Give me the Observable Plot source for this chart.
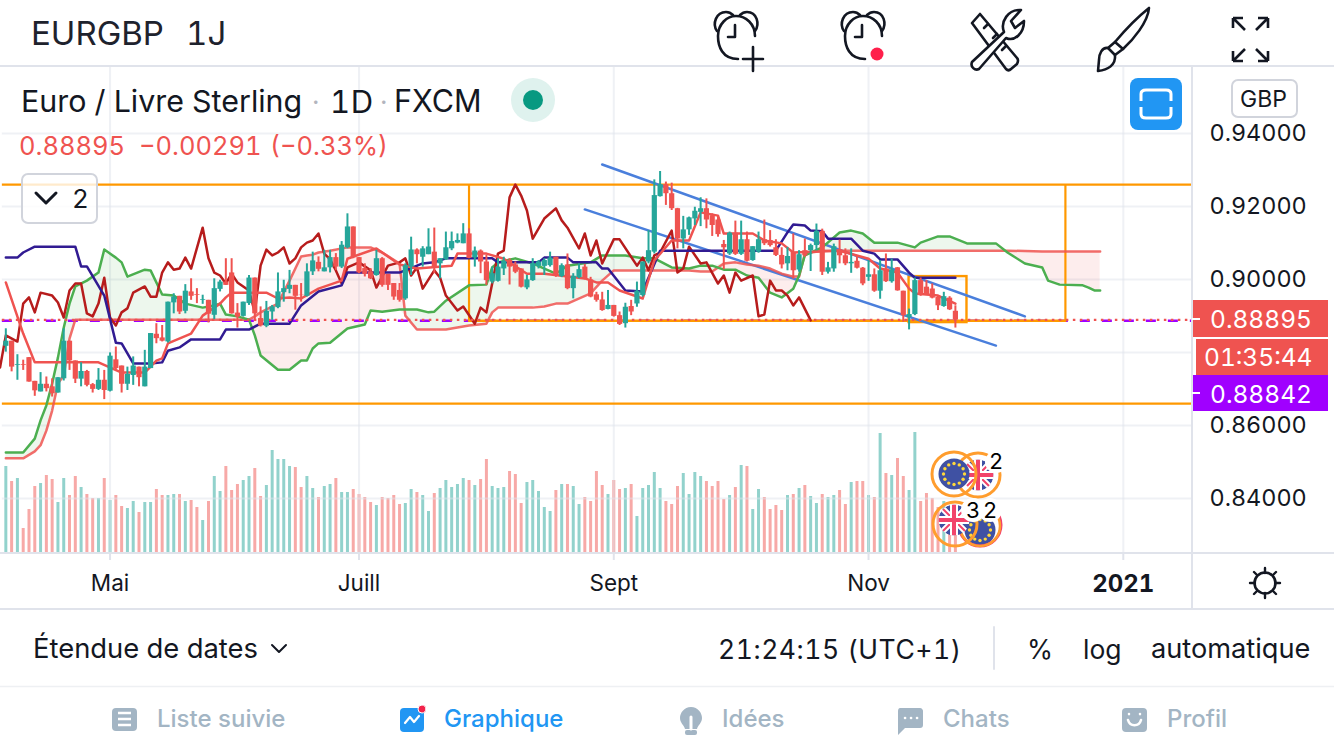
<!DOCTYPE html>
<html><head><meta charset="utf-8">
<script src="https://cdn.jsdelivr.net/npm/d3@7"></script>
<script src="https://cdn.jsdelivr.net/npm/@observablehq/plot@0.6"></script>
<style>
html,body{margin:0;padding:0;background:#fff;overflow:hidden}
#page{position:relative;width:1334px;height:750px;font-family:Inter,sans-serif;color:#131722;overflow:hidden}
.s{position:absolute;left:0;top:66px}
.t{position:absolute;white-space:nowrap;line-height:1;transform:translateY(-50%);z-index:6;font-variant-numeric:tabular-nums}
#ov{position:absolute;left:0;top:0;pointer-events:none;z-index:5}
.box{position:absolute;box-sizing:border-box}
</style></head><body><div id="page">
<div class="s" id="vol"></div>
<div class="s" id="main"></div>
<svg id="ov" width="1334" height="750" fill="none" stroke="#131722" stroke-width="2.6" stroke-linecap="round" stroke-linejoin="round"></svg>
</div>
<script>
// ---------- data ----------
const open=[.8817,.8831,.8765,.8767,.8786,.8721,.8692,.8713,.8706,.8689,
.8728,.8831,.8777,.8727,.8748,.8712,.8699,.8724,.8694,.8780,
.8763,.8713,.8737,.8760,.8706,.8756,.8850,.8840,.8829,.8936,
.8954,.8913,.8966,.8959,.8943,.8943,.8902,.8973,.8993,.9018,
.8908,.8899,.8934,.9004,.8893,.8872,.8911,.8923,.8964,.8973,
.8984,.8957,.8954,.9021,.9047,.9021,.9032,.9060,.9034,.9087,
.9144,.9060,.9030,.9021,.9011,.9057,.9014,.8989,.8970,.8947,
.9034,.9081,.9061,.9068,.9075,.9043,.9054,.9084,.9100,.9098,
.9125,.9059,.9078,.9048,.8993,.8995,.9029,.9052,.9040,.9029,
.8977,.8997,.9036,.9036,.9038,.9061,.9008,.9040,.8975,.9005,
.9034,.8999,.8958,.8944,.8918,.8929,.8901,.8879,.8926,.8933,
.8956,.9048,.9075,.9227,.9260,.9235,.9194,.9111,.9136,.9166,
.9184,.9194,.9175,.9163,.9096,.9070,.9127,.9069,.9109,.9052,
.9075,.9109,.9107,.9087,.9066,.9043,.9074,.9026,.9079,.9079,
.9093,.9132,.9020,.9029,.9081,.9065,.9043,.9050,.9031,.9006,
.9013,.8968,.9029,.8994,.9032,.8968,.8896,.8904,.8997,.8979,
.8974,.8951,.8926,.8949,.8913];
const close=[.8831,.8760,.8767,.8765,.8719,.8695,.8713,.8701,.8687,.8731,
.8831,.8777,.8727,.8748,.8710,.8699,.8724,.8696,.8790,.8756,
.8713,.8740,.8763,.8731,.8760,.8852,.8838,.8831,.8938,.8952,
.8911,.8968,.8954,.8957,.8945,.8905,.8975,.8993,.8984,.8906,
.8897,.8938,.9004,.8906,.8873,.8913,.8925,.8966,.8975,.8984,
.8954,.8956,.9021,.9051,.9028,.9032,.9060,.9034,.9094,.9144,
.9060,.9018,.9014,.9002,.9057,.8984,.8984,.8952,.8943,.9038,
.9081,.9068,.9084,.9089,.9034,.9057,.9087,.9104,.9107,.9125,
.9058,.9078,.9048,.8997,.9016,.9034,.9050,.9034,.9020,.8979,
.8999,.9043,.9048,.9052,.9059,.9011,.9038,.8975,.9009,.9027,
.9002,.8952,.8943,.8915,.8929,.8899,.8877,.8924,.8911,.8968,
.9048,.9079,.9230,.9260,.9235,.9194,.9111,.9136,.9169,.9187,
.9194,.9163,.9148,.9123,.9087,.9127,.9069,.9109,.9050,.9090,
.9109,.9098,.9093,.9066,.9040,.9063,.9024,.9068,.9065,.9093,
.9132,.9020,.9032,.9090,.9065,.9043,.9047,.9031,.8988,.9013,
.8968,.9024,.8994,.9026,.8969,.8901,.8904,.8997,.8956,.8958,
.8949,.8928,.8953,.8917,.88895];
const high=[.8865,.8831,.8794,.8779,.8786,.8721,.8745,.8733,.8728,.8731,
.8865,.8831,.8777,.8772,.8751,.8715,.8756,.8751,.8799,.8815,
.8763,.8760,.8788,.8760,.8806,.8852,.8879,.8874,.8938,.8961,
.8954,.8986,.9002,.8975,.8957,.8943,.9002,.8998,.9057,.9057,
.8934,.8938,.9011,.9004,.8925,.8940,.8929,.9018,.8998,.9025,
.8984,.8989,.9043,.9075,.9062,.9080,.9080,.9071,.9104,.9180,
.9144,.9060,.9043,.9030,.9080,.9060,.9014,.8989,.8989,.9043,
.9116,.9084,.9090,.9139,.9141,.9057,.9130,.9130,.9125,.9153,
.9139,.9089,.9081,.9066,.9034,.9057,.9061,.9057,.9048,.9029,
.9011,.9057,.9052,.9057,.9075,.9061,.9043,.9070,.9016,.9043,
.9041,.9006,.8965,.8965,.8970,.8929,.8911,.8935,.8943,.8993,
.9048,.9134,.9273,.9296,.9267,.9264,.9195,.9173,.9171,.9198,
.9224,.9221,.9180,.9175,.9107,.9130,.9160,.9160,.9130,.9090,
.9130,.9163,.9134,.9109,.9087,.9088,.9125,.9079,.9111,.9097,
.9152,.9138,.9047,.9097,.9108,.9084,.9084,.9063,.9033,.9052,
.9029,.9052,.9070,.9056,.9033,.8968,.8919,.9004,.9004,.8997,
.8988,.8956,.8965,.8953,.8928];
const low=[.8801,.8747,.8724,.8751,.8719,.8680,.8692,.8692,.8678,.8689,
.8722,.8751,.8715,.8706,.8706,.8689,.8696,.8671,.8692,.8751,
.8689,.8696,.8710,.8706,.8706,.8756,.8824,.8829,.8826,.8906,
.8904,.8906,.8943,.8934,.8932,.8881,.8890,.8966,.8984,.8905,
.8867,.8897,.8929,.8888,.8870,.8868,.8888,.8920,.8938,.8961,
.8916,.8938,.8952,.9011,.9021,.9021,.9018,.9025,.9030,.9084,
.9057,.9016,.9007,.9000,.9009,.8979,.8970,.8943,.8938,.8943,
.9011,.9043,.9034,.9068,.9016,.9002,.9052,.9079,.9098,.9098,
.9057,.9034,.9016,.8984,.8988,.8993,.9011,.8985,.9016,.8977,
.8972,.8995,.9029,.9011,.9034,.9006,.9005,.8972,.8947,.9002,
.8999,.8950,.8938,.8913,.8917,.8897,.8874,.8867,.8901,.8924,
.8952,.9043,.9070,.9226,.9203,.9189,.9084,.9084,.9121,.9148,
.9145,.9139,.9118,.9116,.9027,.9066,.9066,.9066,.9048,.9050,
.9072,.9093,.9089,.9063,.9029,.9024,.9001,.9020,.9061,.9022,
.9079,.9011,.9015,.9020,.9043,.9038,.9017,.9029,.8983,.8995,
.8965,.8946,.8992,.8990,.8968,.8883,.8862,.8901,.8954,.8956,
.8947,.8915,.8924,.8915,.8867];
const volume=[258,213,222,72,129,198,207,231,219,150,
222,171,228,195,174,162,162,222,156,171,
138,132,153,120,150,150,189,171,171,174,
174,153,156,135,96,153,228,183,258,186,
204,216,228,252,168,201,306,279,279,258,
255,195,228,192,165,198,204,222,180,180,
189,174,165,150,141,165,162,171,144,147,
189,180,171,123,177,192,216,195,204,222,
216,201,219,279,198,192,
195,243,234,147,210,216,183,135,123,186,
204,204,198,144,165,153,243,201,174,216,
189,192,204,108,192,201,240,192,153,144,
198,237,174,240,228,213,198,213,159,171,
195,261,258,129,189,165,129,141,126,171,
174,192,201,168,147,174,165,171,186,144,
210,213,213,171,165,357,237,231,282,228,
186,360,153,177,162,135,153,138,113];

const kijunDay=[0,2,3,5,12,13,14,17,19,20,22,25,27,28,30,32,37,38,42,44,49,51,54,58,59,68,72,74,76,84,85,92,93,97,98,102,103,104,107,110,111,113,133,135,136,138,139,141,142,146,148,150,151,154,156,157,164];
const kijun=[.9060,.9060,.9074,.9090,.9090,.9036,.9036,.8956,.8827,.8825,.8770,.8770,.8773,.8805,.8814,.8836,.8836,.8863,.8863,.8879,.8879,.8929,.8967,.8984,.9019,.9019,.9044,.9047,.9058,.9058,.9047,.9047,.9060,.9060,.9047,.9047,.9030,.9030,.8970,.8967,.9005,.9079,.9079,.9129,.9151,.9148,.9134,.9132,.9112,.9112,.9079,.9071,.9055,.9055,.9019,.9005,.9005];

const tenkanDay=[0,3,5,16,20,24,26,27,28,32,34,37,38,39,45,47,49,51,54,58,59,64,68,71,77,78,83,86,90,93,100,102,104,106,110,112,115,118,120,123,124,129,131,134,136,144,149,151,154,156,157,161,164];
const tenkan=[.8992,.8852,.8773,.8773,.8745,.8745,.8778,.8784,.8825,.8852,.8901,.8934,.8951,.8964,.8964,.8948,.8951,.8948,.8975,.8997,.9057,.9085,.9041,.9030,.9038,.9071,.9071,.9057,.9016,.9016,.9003,.8992,.8992,.8970,.8948,.9052,.9107,.9107,.9184,.9175,.9126,.9126,.9107,.9099,.9074,.9079,.9057,.9030,.9019,.8975,.8962,.8956,.8934];

const chikouDay=[-1,0,2,3,4,5,6,8,9,10,11,12,13,14,15,16,17,18,19,20,21,22,24,25,26,27,28,29,30,31,32,34,35,36,37,38,39,40,42,43,44,45,46,47,48,49,50,51,52,53,54,55,56,57,58,59,61,63,64,66,68,69,70,71,72,74,75,76,78,79,81,82,83,84,85,86,87,88,89,90,91,93,95,96,97,99,100,101,102,103,105,106,109,110,111,112,113,115,116,117,118,120,121,123,124,125,126,127,129,130,131,132,133,134,135,136,137,139];
const chikou=[.8759,.8847,.8830,.8934,.8951,.8910,.8964,.8956,.8937,.8896,.8970,.8989,.8989,.8907,.8899,.8934,.9005,.8896,.8874,.8910,.8921,.8964,.8981,.8953,.8953,.9019,.9047,.9027,.9030,.9060,.9030,.9142,.9058,.9019,.9011,.8989,.9016,.8992,.8970,.8910,.9038,.9082,.9066,.9074,.9088,.9044,.9058,.9088,.9101,.9107,.9126,.9071,.9055,.9025,.8989,.9033,.9047,.9025,.8978,.9038,.9047,.9058,.9011,.9033,.8975,.9025,.9005,.8956,.8915,.8926,.8879,.8923,.8910,.8989,.9071,.9079,.9225,.9260,.9230,.9189,.9112,.9167,.9195,.9162,.9142,.9085,.9126,.9066,.9107,.9044,.9110,.9110,.9038,.9060,.9025,.9066,.9074,.9134,.9019,.9030,.9090,.9044,.9047,.8989,.9011,.8964,.9019,.8997,.9011,.8899,.8904,.8997,.8970,.8970,.8956,.8929,.8951,.8888];

const cloudDay=[0,3,5,6,7,8,9,10,11,12,14,16,17,19,20,21,24,25,27,29,31,34,36,37,38,40,42,43,44,47,49,51,52,53,54,56,59,62,63,65,68,69,71,73,74,76,80,83,84,85,88,91,93,95,97,101,103,105,107,110,112,115,118,120,122,124,126,128,130,132,134,136,137,138,141,144,146,148,150,154,157,158,161,163,166,171,173,176,179,180,182,186,187,188,189];
const spanA=[.8526,.8526,.8564,.8614,.8655,.8715,.8786,.8868,.8934,.8981,.8997,.9019,.9082,.9060,.9047,.9008,.9027,.9025,.8959,.8956,.8934,.8923,.8929,.8934,.8904,.8899,.8890,.8847,.8792,.8753,.8753,.8778,.8778,.8811,.8825,.8827,.8866,.8877,.8915,.8912,.8918,.8918,.8918,.8910,.8912,.8942,.8984,.8986,.9033,.9047,.9058,.9044,.9030,.9016,.9038,.9047,.9066,.9066,.9066,.9058,.9058,.9033,.9030,.9038,.9038,.9027,.9027,.9011,.9005,.8964,.8951,.8975,.9011,.9066,.9088,.9129,.9134,.9126,.9101,.9101,.9088,.9101,.9118,.9118,.9099,.9099,.9074,.9044,.9033,.8997,.8986,.8984,.8978,.8970,.8970];
const spanB=[.8510,.8510,.8529,.8546,.8586,.8641,.8715,.8737,.8838,.8890,.8890,.8890,.8890,.8890,.8890,.8890,.8890,.8890,.8890,.8890,.8890,.8890,.8890,.8890,.8890,.8890,.8890,.8899,.8910,.8934,.8997,.9063,.9066,.9068,.9074,.9079,.9088,.9088,.9088,.9074,.9044,.8901,.8863,.8863,.8863,.8863,.8874,.8879,.8910,.8923,.8923,.8923,.8926,.8934,.8934,.8962,.8997,.9025,.9025,.9025,.9025,.9025,.9025,.9022,.9022,.9044,.9047,.9041,.9038,.9030,.9016,.9008,.9008,.9071,.9079,.9079,.9079,.9079,.9079,.9079,.9079,.9079,.9079,.9079,.9079,.9079,.9079,.9078,.9077,.9077,.9077,.9077,.9077,.9077,.9077];

const trendDay=[[103,176],[100,171]];
const trendPrice=[[.9315,.8899],[.9192,.8819]];
const levelTop=.9260, levelMid=.8887, levelLow=.8660;
const rangeDays=[80,183];
const boxDays=[156,166], boxPrices=[.9008,.8882];
const lastPrice=.88895, otherPrice=.8887;
const priceTicks=[.94,.92,.90,.86,.84];
const priceGrid=[.94,.92,.90,.88,.86,.84];
const monthDays=[18,61,105,149], monthLabels=["Mai","Juill","Sept","Nov"];
const yearDay=[193], yearLabel=["2021"];
const viewDays=[-0.6,204.95];

// ---------- shared frame ----------
const TEAL="#26a69a",RED="#ef5350",GREEN="#4caf50",NAVY="#311b92",DARKRED="#b71c1c",ORANGE="#ff9800",BLUE="#4a7fdc",PURPLE="#a000ff";
const rows=open.map((o,i)=>({i,o,c:close[i],h:high[i],l:low[i],v:volume[i]}));
const up=rows.filter(d=>d.c>=d.o), down=rows.filter(d=>d.c<d.o);
const pts=(xs,ys)=>xs.map((x,k)=>({x,y:ys[k]}));
const frame={width:1334,height:542,marginLeft:0,marginRight:142,marginTop:0,marginBottom:56,
  x:{type:"linear",domain:[-0.92,204.95],axis:null},
  style:{background:"transparent",fontFamily:"Inter,sans-serif",color:"#131722"}};

// volume pane, below the price pane
document.getElementById("vol").append(Plot.plot({...frame,
  y:{domain:[0,1458],axis:null},
  marks:[
    Plot.ruleX(up,{x:"i",y1:0,y2:"v",stroke:"#92d2cc",strokeWidth:3}),
    Plot.ruleX(down,{x:"i",y1:0,y2:"v",stroke:"#f7a9a7",strokeWidth:3})
  ]}));

const cloud=cloudDay.map((i,k)=>({i,a:spanA[k],b:spanB[k]}));
const candle=(data,color)=>[
  Plot.ruleX(data,{x:"i",y1:"l",y2:"h",stroke:color,strokeWidth:2}),
  Plot.ruleX(data,{x:"i",y1:d=>Math.min(d.o,d.c),y2:d=>Math.max(d.o,d.c),stroke:color,strokeWidth:5.2})
];
const LW=2.5;
document.getElementById("main").append(Plot.plot({...frame,
  y:{domain:[.82521,.95836],axis:null},
  marks:[
    Plot.ruleY(priceGrid,{x1:viewDays[0],x2:viewDays[1],stroke:"#e0e3eb",strokeOpacity:.5,strokeWidth:2}),
    Plot.gridX([...monthDays,...yearDay],{stroke:"#e0e3eb",strokeOpacity:.5,strokeWidth:2}),
    Plot.axisY(priceTicks,{anchor:"right",tickSize:0,tickPadding:17,fontSize:23.4,dy:.4,tickFormat:d=>d.toFixed(5),label:null,fill:"#131722"}),
    Plot.axisX(monthDays,{anchor:"bottom",tickSize:8,tickPadding:15,fontSize:22.5,stroke:"#e0e3eb",strokeWidth:2,tickFormat:d=>monthLabels[monthDays.indexOf(d)],label:null,fill:"#131722"}),
    Plot.axisX(yearDay,{anchor:"bottom",tickSize:8,tickPadding:14,fontSize:24,fontWeight:700,stroke:"#e0e3eb",strokeWidth:2,tickFormat:d=>yearLabel[0],label:null,fill:"#131722"}),
    // cloud
    Plot.areaY(cloud,{x:"i",y1:"b",y2:d=>Math.max(d.a,d.b),fill:GREEN,fillOpacity:.1}),
    Plot.areaY(cloud,{x:"i",y1:"b",y2:d=>Math.min(d.a,d.b),fill:RED,fillOpacity:.1}),
    // last-price lines
    Plot.ruleY([otherPrice],{x1:viewDays[0],x2:viewDays[1],stroke:PURPLE,strokeWidth:2.4,strokeDasharray:"10,12"}),
    // drawings
    Plot.ruleY([levelTop,levelLow],{x1:viewDays[0],x2:viewDays[1],stroke:ORANGE,strokeWidth:2.4}),
    Plot.line(pts(rangeDays,[levelMid,levelMid]),{x:"x",y:"y",stroke:ORANGE,strokeWidth:2.6}),
    Plot.ruleX(rangeDays,{y1:levelMid,y2:levelTop,stroke:ORANGE,strokeWidth:2.2}),
    Plot.rect([0],{x1:boxDays[0],x2:boxDays[1],y1:boxPrices[1],y2:boxPrices[0],stroke:ORANGE,strokeWidth:2.4,fill:"none"}),
    Plot.line(pts(trendDay[0],trendPrice[0]),{x:"x",y:"y",stroke:BLUE,strokeWidth:LW}),
    Plot.line(pts(trendDay[1],trendPrice[1]),{x:"x",y:"y",stroke:BLUE,strokeWidth:LW}),
    // ichimoku lines
    Plot.line(pts(cloudDay,spanB),{x:"x",y:"y",stroke:RED,strokeOpacity:.85,strokeWidth:LW}),
    Plot.line(pts(cloudDay,spanA),{x:"x",y:"y",stroke:GREEN,strokeWidth:LW}),
    Plot.line(pts(chikouDay,chikou),{x:"x",y:"y",stroke:DARKRED,strokeWidth:LW}),
    Plot.line(pts(kijunDay,kijun),{x:"x",y:"y",stroke:NAVY,strokeWidth:LW}),
    Plot.line(pts(tenkanDay,tenkan),{x:"x",y:"y",stroke:RED,strokeWidth:LW}),
    Plot.ruleY([lastPrice],{x1:viewDays[0],x2:viewDays[1],stroke:RED,strokeWidth:2.2,strokeDasharray:"2.5,4.5"}),
    // candles
    ...candle(up,TEAL),...candle(down,RED)
  ]}));

// ---------- page furniture ----------
const page=document.getElementById("page");
const txt=(s,left,cy,size,color,extra="")=>{const e=document.createElement("div");e.className="t";e.textContent=s;
  e.style.cssText=`left:${left}px;top:${cy}px;font-size:${size}px;color:${color||"#131722"};${extra}`;page.append(e);return e;};
const box=(l,t,w,h,css)=>{const e=document.createElement("div");e.className="box";e.style.cssText=`left:${l}px;top:${t}px;width:${w}px;height:${h}px;${css}`;page.append(e);return e;};

txt("EURGBP",31,33,33,"#1e222d");
txt("1J",186,33,33,"#1e222d");
txt("Euro / Livre Sterling",21,101,30.4,"#131722");
txt("·",312,102,26,"#b2b5be");
txt("1D",330,101,31,"#131722","letter-spacing:.6px");
txt("·",380,102,26,"#b2b5be");
txt("FXCM",394,101,30.5,"#131722");
txt("0.88895",19,146,25.5,RED);
txt("−0.00291",139,146,25.5,RED);
txt("(−0.33%)",270,146,25.5,RED);
box(21,173,77,51,"border:2px solid #d1d4dc;border-radius:7px;background:rgba(255,255,255,.8)");
txt("2",72,199,26,"#131722");
box(1130,78,52,52,"background:#2196f3;border-radius:8px");
box(1231,79,67,39,"border:2px solid #d1d4dc;border-radius:7px;background:#fff");
txt("GBP",1240,99,23,"#131722");
// price labels
box(1192,300,136,37,`background:${RED}`);
box(1196,339,132,36,`background:${RED}`);
box(1192,375,136,36,`background:${PURPLE}`);
txt("0.88895",1210,319,24.5,"#fff");
txt("01:35:44",1204,357,24.5,"#fff");
txt("0.88842",1210,394,24.5,"#fff");
// footer
txt("Étendue de dates",33,649,27.4);
txt("21:24:15 (UTC+1)",718,649,26.5,"#131722","letter-spacing:.55px");
txt("%",1027,649,26.5);
txt("log",1083,649,26.5);
txt("automatique",1151,649,27.2);
txt("Liste suivie",157,719,24,"#a3b5c4","font-weight:500");
txt("Graphique",444,719,24,"#2196f3","font-weight:500");
txt("Idées",722,719,24,"#a3b5c4","font-weight:500");
txt("Chats",943,719,24,"#a3b5c4","font-weight:500");
txt("Profil",1167,719,24,"#a3b5c4","font-weight:500");

const eu=(cx,cy)=>{let s=`<circle cx="${cx}" cy="${cy}" r="15.5" fill="#3f51a3" stroke="none"/>`;
  for(let k=0;k<12;k++){const a=k*Math.PI/6;s+=`<circle cx="${cx+10.5*Math.cos(a)}" cy="${cy+10.5*Math.sin(a)}" r="1.7" fill="#ffd83b" stroke="none"/>`;}return s;};
let clipId=0;
const gb=(cx,cy)=>{const id="c"+(++clipId),r=15.5;return `<clipPath id="${id}"><circle cx="${cx}" cy="${cy}" r="${r}"/></clipPath><g clip-path="url(#${id})" stroke-linecap="butt">
<circle cx="${cx}" cy="${cy}" r="${r}" fill="#3f51a3" stroke="none"/>
<path d="M${cx-r} ${cy-r}L${cx+r} ${cy+r}M${cx+r} ${cy-r}L${cx-r} ${cy+r}" stroke="#fff" stroke-width="6"/>
<path d="M${cx-r} ${cy-r}L${cx+r} ${cy+r}M${cx+r} ${cy-r}L${cx-r} ${cy+r}" stroke="#f2436b" stroke-width="2"/>
<path d="M${cx} ${cy-r}V${cy+r}M${cx-r} ${cy}H${cx+r}" stroke="#fff" stroke-width="8"/>
<path d="M${cx} ${cy-r}V${cy+r}M${cx-r} ${cy}H${cx+r}" stroke="#f2436b" stroke-width="4"/></g>`;};
const ring=(cx,cy,c)=>`<circle cx="${cx}" cy="${cy}" r="22" stroke="${c}" stroke-width="3"/>`;
document.getElementById("ov").innerHTML=`
<g stroke="#e0e3eb" stroke-width="2"><path d="M0 66H1334M0 553H1334M0 609H1334M1192 66V609"/></g>
<path d="M0 686.5H1334" stroke="#eef0f3" stroke-width="1.5"/><path d="M994 627V669" stroke="#e0e3eb" stroke-width="2"/>
<!-- alarm + -->
<g id="a1"><path d="M738 59C722 59 718 46 718 36C718 24 727 16 736 16C746 16 755 24 755 36"/><path d="M717 31C712 24 716 12 726 12C730 12 732 14 733 15M740 15C741 14 744 12 747 12C757 12 760 24 755 31"/><path d="M735 25V37H728"/></g>
<path d="M753 47V71M743 59H763"/>
<use href="#a1" x="127"/>
<circle cx="877" cy="54" r="6.5" fill="#ff1f4b" stroke="none"/>
<!-- tools -->
<path d="M972 23L980 14L1017 58C1019 60 1018 62 1017 64L1011 69C1009 71 1007 70 1006 69Z"/>
<path d="M984 28L988 24M993 38L997 34M1002 50L1006 46"/>
<path d="M972 62L1004 32C1000 22 1008 9 1021 10L1011 21L1015 28L1024 21C1024 33 1015 42 1006 38L979 69C975 71 970 67 972 62Z" fill="#fff"/>
<!-- brush -->
<path d="M1149 8C1148 22 1133 40 1123 49L1115 42C1125 30 1139 16 1149 8Z"/><path d="M1115 42L1108 48L1115 55L1123 49"/>
<path d="M1108 48C1102 47 1099 54 1099 60L1098 71C1108 70 1116 65 1115 55"/>
<!-- expand -->
<path d="M1233 18H1243M1233 18V28M1233 18L1245 30M1268 18H1258M1268 18V28M1268 18L1256 30M1233 61H1243M1233 61V51M1233 61L1245 49M1268 61H1258M1268 61V51M1268 61L1256 49" stroke-linecap="butt"/>
<!-- chevron in legend toggle -->
<path d="M36 193L46 203L56 193" stroke-width="3"/>
<!-- focus button -->
<path d="M1141 101V94C1141 91 1143 90 1146 90H1166C1169 90 1171 91 1171 94V101M1141 107V114C1141 117 1143 118 1146 118H1166C1169 118 1171 117 1171 114V107" stroke="#fff" stroke-width="3" stroke-linecap="butt"/>
<!-- live dot -->
<ellipse cx="533" cy="100" rx="22" ry="22" fill="#dff2ee" stroke="none"/>
<circle cx="533" cy="100" r="10" fill="#089981" stroke="none"/>
<!-- price-label ticks -->
<path d="M1192 319H1200M1192 393H1200" stroke="#fff" stroke-width="2" stroke-linecap="butt"/>
<!-- sun -->
<circle cx="1265" cy="583" r="10.5"/>
<path d="M1265 568V573M1265 593V598M1250 583H1255M1275 583H1280M1254 572L1257 575M1276 572L1273 575M1254 594L1257 591M1276 594L1273 591" stroke-width="2.4"/>
<!-- date chevron -->
<path d="M272 645L279 652L286 645" stroke-width="2"/>
<!-- nav icons -->
<rect x="112" y="708" width="25" height="23" rx="4" fill="#a3b5c4" stroke="none"/><path d="M118 713H131M118 719H131M118 725H131" stroke="#fff" stroke-width="2.4" stroke-linecap="butt"/>
<rect x="400" y="708" width="24" height="24" rx="4" fill="#2196f3" stroke="none"/><path d="M405 723L410 717L414 722L419 716" stroke="#fff" stroke-width="2.2"/><circle cx="422" cy="709" r="4" fill="#f2234b" stroke="#fff" stroke-width="1"/>
<path d="M691 707C684 707 680 713 680 718C680 723 684 725 685 729H697C698 725 702 723 702 718C702 713 698 707 691 707Z" fill="#a3b5c4" stroke="none"/><rect x="685" y="730" width="12" height="5" rx="2" fill="#a3b5c4" stroke="none"/><path d="M691 717V729" stroke="#fff" stroke-width="3"/>
<path d="M900 708H920C922 708 923 710 923 711V725C923 727 922 728 920 728H905L898 735V711C898 709 899 708 900 708Z" fill="#a3b5c4" stroke="none"/><path d="M905 718H905.1M911 718H911.1M917 718H917.1" stroke="#fff" stroke-width="2.6"/>
<rect x="1122" y="708" width="25" height="24" rx="4" fill="#a3b5c4" stroke="none"/><path d="M1128 720C1130 727 1139 727 1141 720M1129 714V714.1M1140 714V714.1" stroke="#fff" stroke-width="2.6"/>
<!-- event flags -->
${gb(978,475)}<circle cx="978" cy="475" r="22" stroke="#ff9d2e" stroke-width="3"/>
${eu(954,474)}${ring(954,474,"#ff9d2e")}
<circle cx="996" cy="462" r="11" fill="#fff" stroke="none"/>
${eu(980,530)}<circle cx="980" cy="525" r="21" stroke="#f2436b" stroke-width="3"/>
<circle cx="980" cy="526" r="20" stroke="#ff9d2e" stroke-width="2.5"/>
${gb(954,520)}${ring(955,524,"#ff9d2e")}
<circle cx="973" cy="510" r="12" fill="#fff" stroke="none"/><circle cx="990" cy="510" r="12" fill="#fff" stroke="none"/>
`;
txt("2",989,461,22,"#000");
txt("3",966,510,22,"#000");
txt("2",983,510,22,"#000");
</script></body></html>
